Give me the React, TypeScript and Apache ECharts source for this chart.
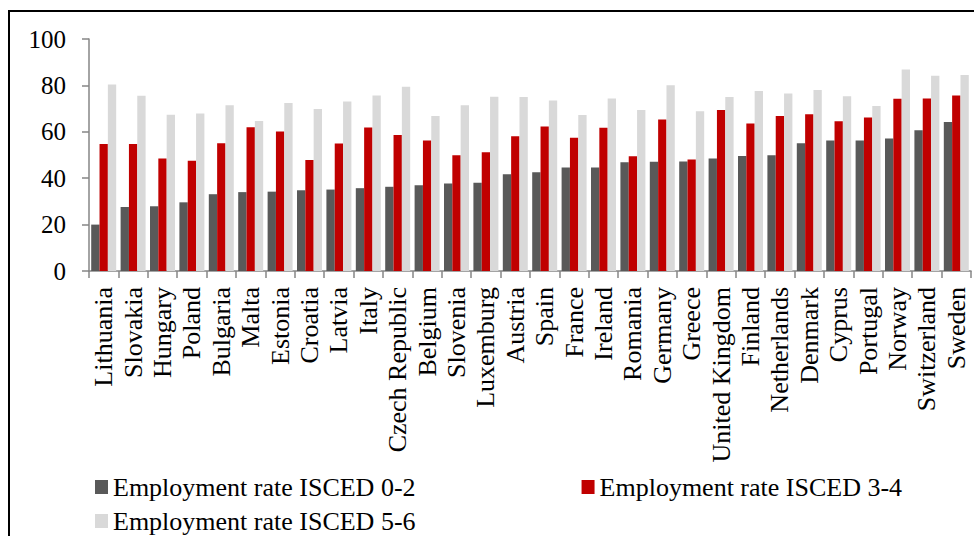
import * as echarts from "echarts";
import { useEffect, useRef } from "react";

const COUNTRIES = [
  "Lithuania", "Slovakia", "Hungary", "Poland", "Bulgaria", "Malta", "Estonia",
  "Croatia", "Latvia", "Italy", "Czech Republic", "Belgium", "Slovenia",
  "Luxemburg", "Austria", "Spain", "France", "Ireland", "Romania", "Germany",
  "Greece", "United Kingdom", "Finland", "Netherlands", "Denmark", "Cyprus",
  "Portugal", "Norway", "Switzerland", "Sweden",
];

const ISCED_0_2 = [
  20.0, 27.6, 27.9, 29.6, 33.1, 34.0, 34.2, 34.8, 35.1, 35.7, 36.3, 37.0, 37.7,
  38.0, 41.7, 42.6, 44.6, 44.6, 46.9, 47.1, 47.2, 48.5, 49.6, 49.9, 55.1, 56.3,
  56.3, 57.1, 60.7, 64.2,
];

const ISCED_3_4 = [
  54.7, 54.7, 48.5, 47.5, 55.1, 62.0, 60.1, 47.8, 55.0, 61.9, 58.6, 56.3, 49.9,
  51.2, 58.1, 62.3, 57.4, 61.7, 49.5, 65.3, 48.1, 69.4, 63.6, 66.8, 67.6, 64.6,
  66.2, 74.2, 74.4, 75.7,
];

const ISCED_5_6 = [
  80.4, 75.5, 67.3, 67.9, 71.4, 64.7, 72.4, 69.8, 73.1, 75.7, 79.4, 66.8, 71.4,
  75.1, 75.0, 73.5, 67.2, 74.4, 69.4, 80.1, 68.9, 75.0, 77.6, 76.5, 78.0, 75.3,
  71.1, 86.9, 84.2, 84.5,
];

const SERIES_NAMES = [
  "Employment rate ISCED 0-2",
  "Employment rate ISCED 3-4",
  "Employment rate ISCED 5-6",
];

const COLORS = ["#595959", "#c00000", "#d9d9d9"];
const AXIS_GRAY = "#868686";
const FONT = '"Liberation Serif", "Times New Roman", serif';

const legendText = { fontFamily: FONT, fontSize: 26, color: "#000" };

export default function App() {
  const ref = useRef<HTMLDivElement>(null);

  useEffect(() => {
    const el = ref.current;
    if (!el) return;
    const chart = echarts.init(el, undefined, { renderer: "svg" });
    const values = [ISCED_0_2, ISCED_3_4, ISCED_5_6];
    chart.setOption({
      animation: false,
      textStyle: { fontFamily: FONT },
      grid: { left: 89, right: 3, top: 39, bottom: 265 },
      // two legend blocks: first row holds two items, second row one
      legend: [
        {
          data: SERIES_NAMES.slice(0, 2),
          left: 95,
          top: 474,
          padding: 0,
          icon: "rect",
          itemWidth: 13,
          itemHeight: 14,
          itemGap: 166,
          textStyle: legendText,
        },
        {
          data: SERIES_NAMES.slice(2),
          left: 95,
          top: 508,
          padding: 0,
          icon: "rect",
          itemWidth: 13,
          itemHeight: 14,
          textStyle: legendText,
        },
      ],
      xAxis: {
        type: "category",
        data: COUNTRIES,
        axisLine: { lineStyle: { color: AXIS_GRAY, width: 1.5 } },
        axisTick: { show: true, length: 7, lineStyle: { color: AXIS_GRAY, width: 1.5 } },
        axisLabel: {
          interval: 0,
          rotate: 90,
          margin: 16,
          color: "#000",
          fontFamily: FONT,
          fontSize: 26,
        },
      },
      yAxis: {
        type: "value",
        min: 0,
        max: 100,
        interval: 20,
        splitLine: { show: false },
        axisLine: { show: true, lineStyle: { color: AXIS_GRAY, width: 1.5 } },
        axisTick: { show: true, length: 7, lineStyle: { color: AXIS_GRAY, width: 1.5 } },
        axisLabel: { margin: 23, color: "#000", fontFamily: FONT, fontSize: 25 },
      },
      graphic: [
        {
          type: "rect",
          shape: { x: 9, y: 11, width: 1000, height: 600 },
          style: { fill: "none", stroke: "#000", lineWidth: 2 },
          silent: true,
        },
      ],
      series: values.map((data, i) => ({
        name: SERIES_NAMES[i],
        type: "bar",
        data,
        barGap: "0%",
        barCategoryGap: "15%",
        itemStyle: { color: COLORS[i] },
      })),
    });
    return () => chart.dispose();
  }, []);

  return (
    <div
      ref={ref}
      style={{ position: "fixed", left: 0, top: 0, width: 974, height: 536, background: "#fff" }}
    />
  );
}
